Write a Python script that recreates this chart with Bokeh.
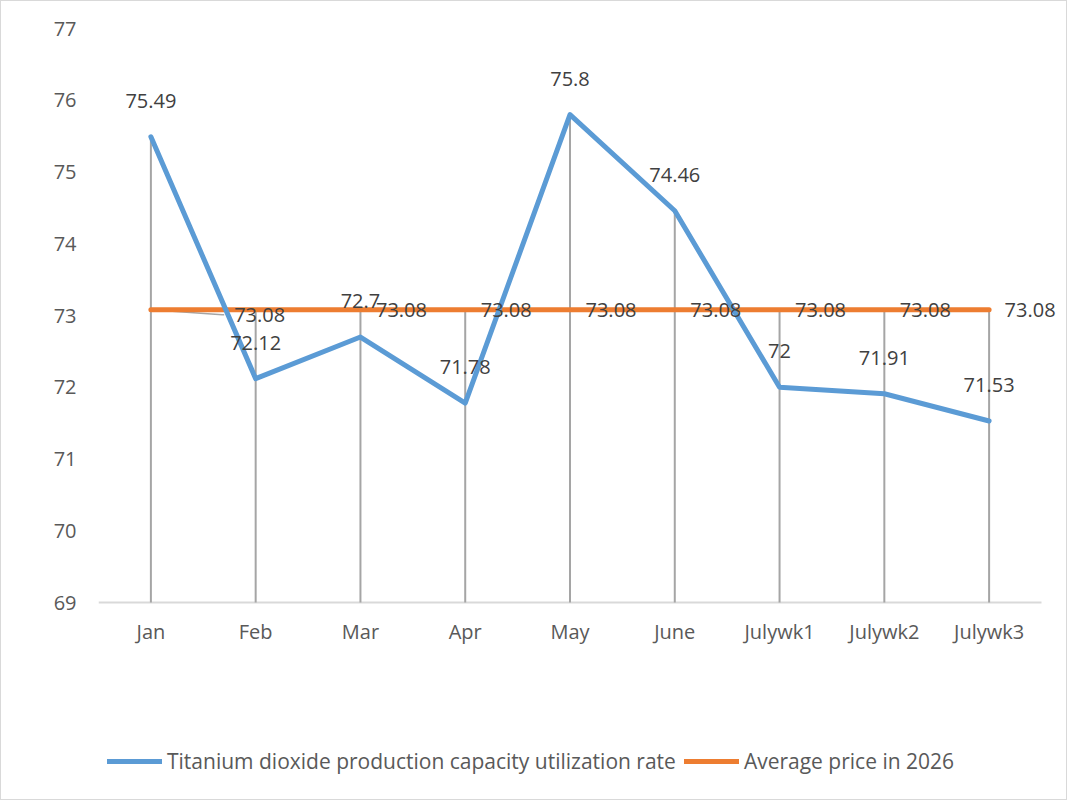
from bokeh.plotting import figure
from bokeh.models import ColumnDataSource, Legend, LegendItem, Range1d, FixedTicker
from bokeh.core.properties import value
from bokeh.embed import file_html
from bokeh.resources import INLINE

months = ["Jan", "Feb", "Mar", "Apr", "May", "June", "Julywk1", "Julywk2", "Julywk3"]
utilization = [75.49, 72.12, 72.7, 71.78, 75.8, 74.46, 72.0, 71.91, 71.53]
avg_price = [73.08] * 9
y_ticks = [69, 70, 71, 72, 73, 74, 75, 76, 77]

FONT = "Open Sans"
TXT = "#404040"
AXIS_TXT = "#595959"
BLUE = "#5b9bd5"
ORANGE = "#ed7d31"

W, H = 1067, 800
LEFT = 97                      # room for the value labels
PLOT_TOP, PLOT_BOTTOM, PLOT_RIGHT = 27, 601, 1040   # pixel box of the value area

xs = list(range(len(months)))
util_labels = [f"{v:g}" for v in utilization]
avg_labels = [f"{v:.2f}" for v in avg_price]

# the frame fills the canvas so labels and legend can sit outside the value box
y_lo, y_hi = y_ticks[0], y_ticks[-1]
py = (PLOT_BOTTOM - PLOT_TOP) / (y_hi - y_lo)
x_lo, x_hi = xs[0] - 0.5, xs[-1] + 0.5
px = (PLOT_RIGHT - LEFT) / (x_hi - x_lo)
y_range = Range1d(y_lo - (H - PLOT_BOTTOM) / py, y_hi + PLOT_TOP / py)
x_range = Range1d(x_lo, x_hi + (W - PLOT_RIGHT) / px)

p = figure(width=W, height=H, output_backend="svg", toolbar_location=None,
           x_range=x_range, y_range=y_range,
           min_border_left=LEFT, min_border_right=0, min_border_top=0, min_border_bottom=0)
p.styles = {"border": "1px solid #d9d9d9"}
p.outline_line_color = None
p.grid.visible = False
p.xaxis.visible = False

p.yaxis.ticker = FixedTicker(ticks=y_ticks)
p.yaxis.axis_line_color = None
p.yaxis.major_tick_line_color = None
p.yaxis.minor_tick_line_color = None
p.yaxis.major_label_standoff = 16
p.yaxis.major_label_text_font = FONT
p.yaxis.major_label_text_font_size = "20px"
p.yaxis.major_label_text_color = AXIS_TXT

# category baseline and its labels
p.segment(x0=[x_lo], y0=[y_lo], x1=[x_hi], y1=[y_lo], line_color="#d9d9d9", line_width=2)
cat_src = ColumnDataSource(dict(x=xs, y=[y_lo] * len(xs), t=months))
p.text(x="x", y="y", text="t", source=cat_src, y_offset=29, text_align="center",
       text_baseline="middle", text_font=value(FONT), text_font_size="20px", text_color=AXIS_TXT)

# drop lines from the higher series down to the category axis
tops = [max(a, b) for a, b in zip(utilization, avg_price)]
p.segment(x0=xs, y0=tops, x1=xs, y1=[y_lo] * len(xs), line_color="#a5a5a5", line_width=2)

# leader line for the first average-price label
p.line(x=[xs[0], xs[0] + 0.68, xs[1] - 0.3], y=[avg_price[0], avg_price[0] - 0.07, avg_price[0] - 0.07],
       line_color="#a5a5a5", line_width=1.5)

r_avg = p.line(x=xs, y=avg_price, line_color=ORANGE, line_width=5, line_cap="round", line_join="round")
r_util = p.line(x=xs, y=utilization, line_color=BLUE, line_width=5, line_cap="round", line_join="round")

util_src = ColumnDataSource(dict(x=xs, y=utilization, t=util_labels))
p.text(x="x", y="y", text="t", source=util_src, y_offset=-36, text_align="center",
       text_baseline="middle", text_font=value(FONT), text_font_size="20px", text_color=TXT)

# first label sits beside Feb, the rest to the right of their points
avg_src = ColumnDataSource(dict(
    x=xs[1:], y=avg_price[1:], t=avg_labels[1:],
    dx=[4] + [41] * (len(xs) - 2),
    dy=[5] + [0] * (len(xs) - 2),
))
p.text(x="x", y="y", text="t", source=avg_src, x_offset="dx", y_offset="dy", text_align="center",
       text_baseline="middle", text_font=value(FONT), text_font_size="20px", text_color=TXT)

legend = Legend(items=[
    LegendItem(label="Titanium dioxide production capacity utilization rate", renderers=[r_util]),
    LegendItem(label="Average price in 2026", renderers=[r_avg]),
], orientation="horizontal", location=(9, 26), glyph_width=55, label_standoff=5, spacing=8,
    label_text_font=FONT, label_text_font_size="21px", label_text_color=AXIS_TXT,
    border_line_color=None, background_fill_alpha=0)
p.add_layout(legend, "center")

open("out.html", "w").write(file_html(p, INLINE))
